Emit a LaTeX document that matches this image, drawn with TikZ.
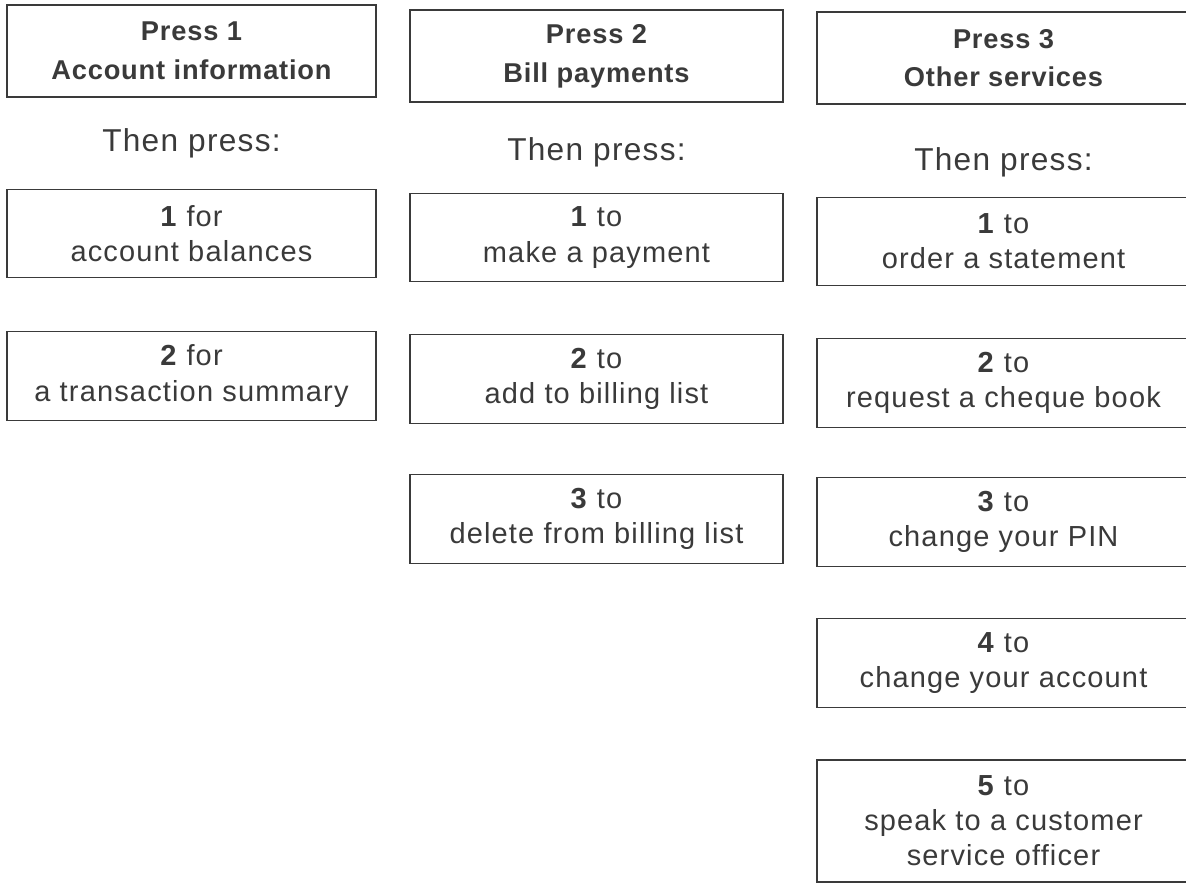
\documentclass[tikz,border=0pt]{standalone}
\usepackage{fontspec}
\setmainfont{Liberation Sans}[LetterSpace=4,BoldFeatures={LetterSpace=3}]
\usetikzlibrary{positioning}
\definecolor{ink}{HTML}{3A3A3A}

\begin{document}
\begin{tikzpicture}[
  headbox/.style={draw=ink, line width=0.8pt, inner sep=0pt, align=center, text=ink,
    minimum height=1.84cm, font=\bfseries\fontsize{15.5}{22}\selectfont},
  optbox/.style={draw=ink, line width=0.8pt, inner sep=0pt, align=center, text=ink,
    minimum height=1.77cm, font=\fontsize{16.5}{20}\selectfont},
  thenlabel/.style={text=ink, font=\fontsize{18}{20}\selectfont}]
\useasboundingbox (0,0) rectangle (23.72,-17.68);
%\draw[help lines] (0,0) grid (23,-17);
% column 1
\node [headbox, minimum width=7.38cm] (head1) at (3.83,-1.02) {Press 1\\Account information};
\node [thenlabel] (then1) at (3.83,-2.86) {Then press:};
\node [optbox, minimum width=7.38cm] (acc1) at (3.83,-4.67) {\textbf{1} for\\account balances};
\node [optbox, minimum width=7.38cm] (acc2) at (3.83,-7.52) {\textbf{2} for\\a transaction summary};
% column 2
\node [headbox, minimum width=7.46cm] (head2) at (11.93,-1.12) {Press 2\\Bill payments};
\node [thenlabel] (then2) at (11.93,-3.04) {Then press:};
\node [optbox, minimum width=7.46cm] (bill1) at (11.93,-4.75) {\textbf{1} to\\make a payment};
\node [optbox, minimum width=7.46cm] (bill2) at (11.93,-7.58) {\textbf{2} to\\add to billing list};
\node [optbox, minimum width=7.46cm] (bill3) at (11.93,-10.38) {\textbf{3} to\\delete from billing list};
% column 3
\node [headbox, minimum width=7.46cm] (head3) at (20.07,-1.16) {Press 3\\Other services};
\node [thenlabel] (then3) at (20.07,-3.24) {Then press:};
\node [optbox, minimum width=7.46cm] (serv1) at (20.07,-4.83) {\textbf{1} to\\order a statement};
\node [optbox, minimum width=7.46cm] (serv2) at (20.07,-7.66) {\textbf{2} to\\request a cheque book};
\node [optbox, minimum width=7.46cm] (serv3) at (20.07,-10.44) {\textbf{3} to\\change your PIN};
\node [optbox, minimum width=7.46cm] (serv4) at (20.07,-13.26) {\textbf{4} to\\change your account};
\node [optbox, minimum width=7.46cm, minimum height=2.44cm] (serv5) at (20.07,-16.42) {\textbf{5} to\\speak to a customer\\service officer};
\end{tikzpicture}
\end{document}
